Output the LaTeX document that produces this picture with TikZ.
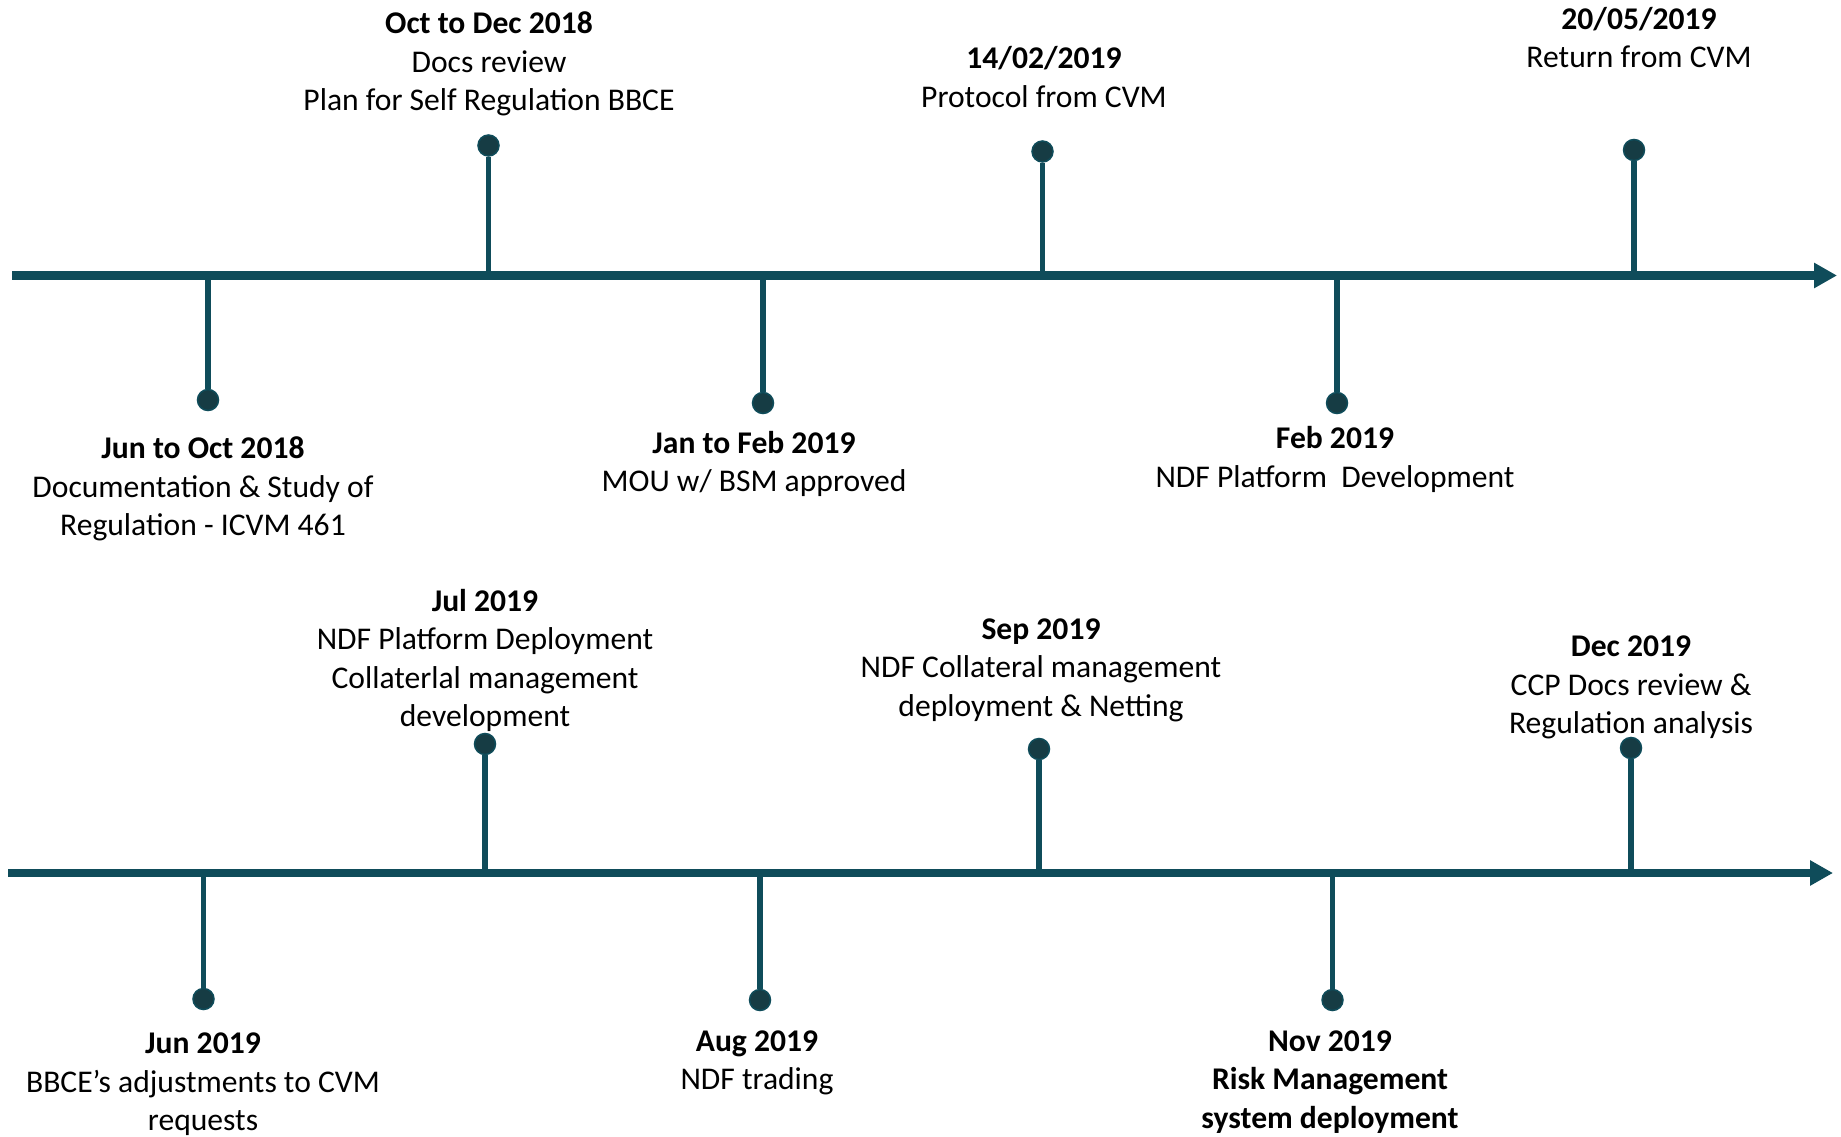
\documentclass[tikz,border=0pt]{standalone}
\usepackage{fontspec}
\setmainfont{Carlito}
\usetikzlibrary{arrows.meta}
\definecolor{teal}{RGB}{15,76,90}
\definecolor{dotfill}{RGB}{22,60,68}
\tikzset{
  axisline/.style={draw=teal, line width=8.5pt, -{Triangle[length=23pt,width=24pt]}},
  stem/.style={draw=teal, line width=5.5pt},
  dot/.style={circle, minimum size=21pt, inner sep=0pt, fill=dotfill, draw=teal, line width=1.5pt},
  lbl/.style={align=center, inner sep=0pt, anchor=base, text=black, yshift=-1.5pt, font=\fontsize{31.6pt}{38.5pt}\selectfont}
}
\begin{document}
\begin{tikzpicture}[x=1pt, y=-1pt]
\useasboundingbox[fill=white] (0,0) rectangle (1841,1137);

% ---------- top timeline ----------
\coordinate (ts) at (12,275.5);
\coordinate (te) at (1837,275.5);
\foreach \n/\x in {a1/208, a2/488.5, a3/763, a4/1042.5, a5/1337, a6/1634}
  \coordinate (\n) at (\x,275.5);
\node[dot] (d1) at (208,400) {};
\node[dot] (d2) at (488.5,145.5) {};
\node[dot] (d3) at (763,403) {};
\node[dot] (d4) at (1042.5,151.5) {};
\node[dot] (d5) at (1337,403) {};
\node[dot] (d6) at (1634,150) {};
\foreach \i in {1,...,6} \draw[stem] (a\i) -- (d\i);
\draw[axisline] (ts) -- (te);

% (base anchor = baseline of the last line)
\node[lbl] (l1) at (203,534) {\textbf{Jun to Oct 2018}\\Documentation \& Study of\\Regulation - ICVM 461};
\node[lbl] (l2) at (489,109) {\textbf{Oct to Dec 2018}\\Docs review\\Plan for Self Regulation BBCE};
\node[lbl] (l3) at (754,490) {\textbf{Jan to Feb 2019}\\MOU w/ BSM approved};
\node[lbl] (l4) at (1044,106) {\textbf{14/02/2019}\\Protocol from CVM};
\node[lbl] (l5) at (1335,485.5) {\textbf{Feb 2019}\\NDF Platform~~Development};
\node[lbl] (l6) at (1639,66.5) {\textbf{20/05/2019}\\Return from CVM};

% ---------- bottom timeline ----------
\coordinate (bs) at (8,873);
\coordinate (be) at (1833,873);
\foreach \n/\x in {b1/203.5, b2/485, b3/760, b4/1039, b5/1332.5, b6/1631}
  \coordinate (\n) at (\x,873);
\node[dot] (e1) at (203.5,999) {};
\node[dot] (e2) at (485,744) {};
\node[dot] (e3) at (760,1000) {};
\node[dot] (e4) at (1039,749) {};
\node[dot] (e5) at (1332.5,1000) {};
\node[dot] (e6) at (1631,748) {};
\foreach \i in {1,...,6} \draw[stem] (b\i) -- (e\i);
\draw[axisline] (bs) -- (be);

\node[lbl] (m1) at (203,1129) {\textbf{Jun 2019}\\BBCE’s adjustments to CVM\\requests};
\node[lbl] (m2) at (485,725) {\textbf{Jul 2019}\\NDF Platform Deployment\\Collaterlal management\\development};
\node[lbl] (m3) at (757,1088) {\textbf{Aug 2019}\\NDF trading};
\node[lbl] (m4) at (1041,714.5) {\textbf{Sep 2019}\\NDF Collateral management\\deployment \& Netting};
\node[lbl] (m5) at (1330,1126.6) {\textbf{Nov 2019}\\\textbf{Risk Management}\\\textbf{system deployment}};
\node[lbl] (m6) at (1631,732) {\textbf{Dec 2019}\\CCP Docs review \&\\Regulation analysis};
\end{tikzpicture}
\end{document}
